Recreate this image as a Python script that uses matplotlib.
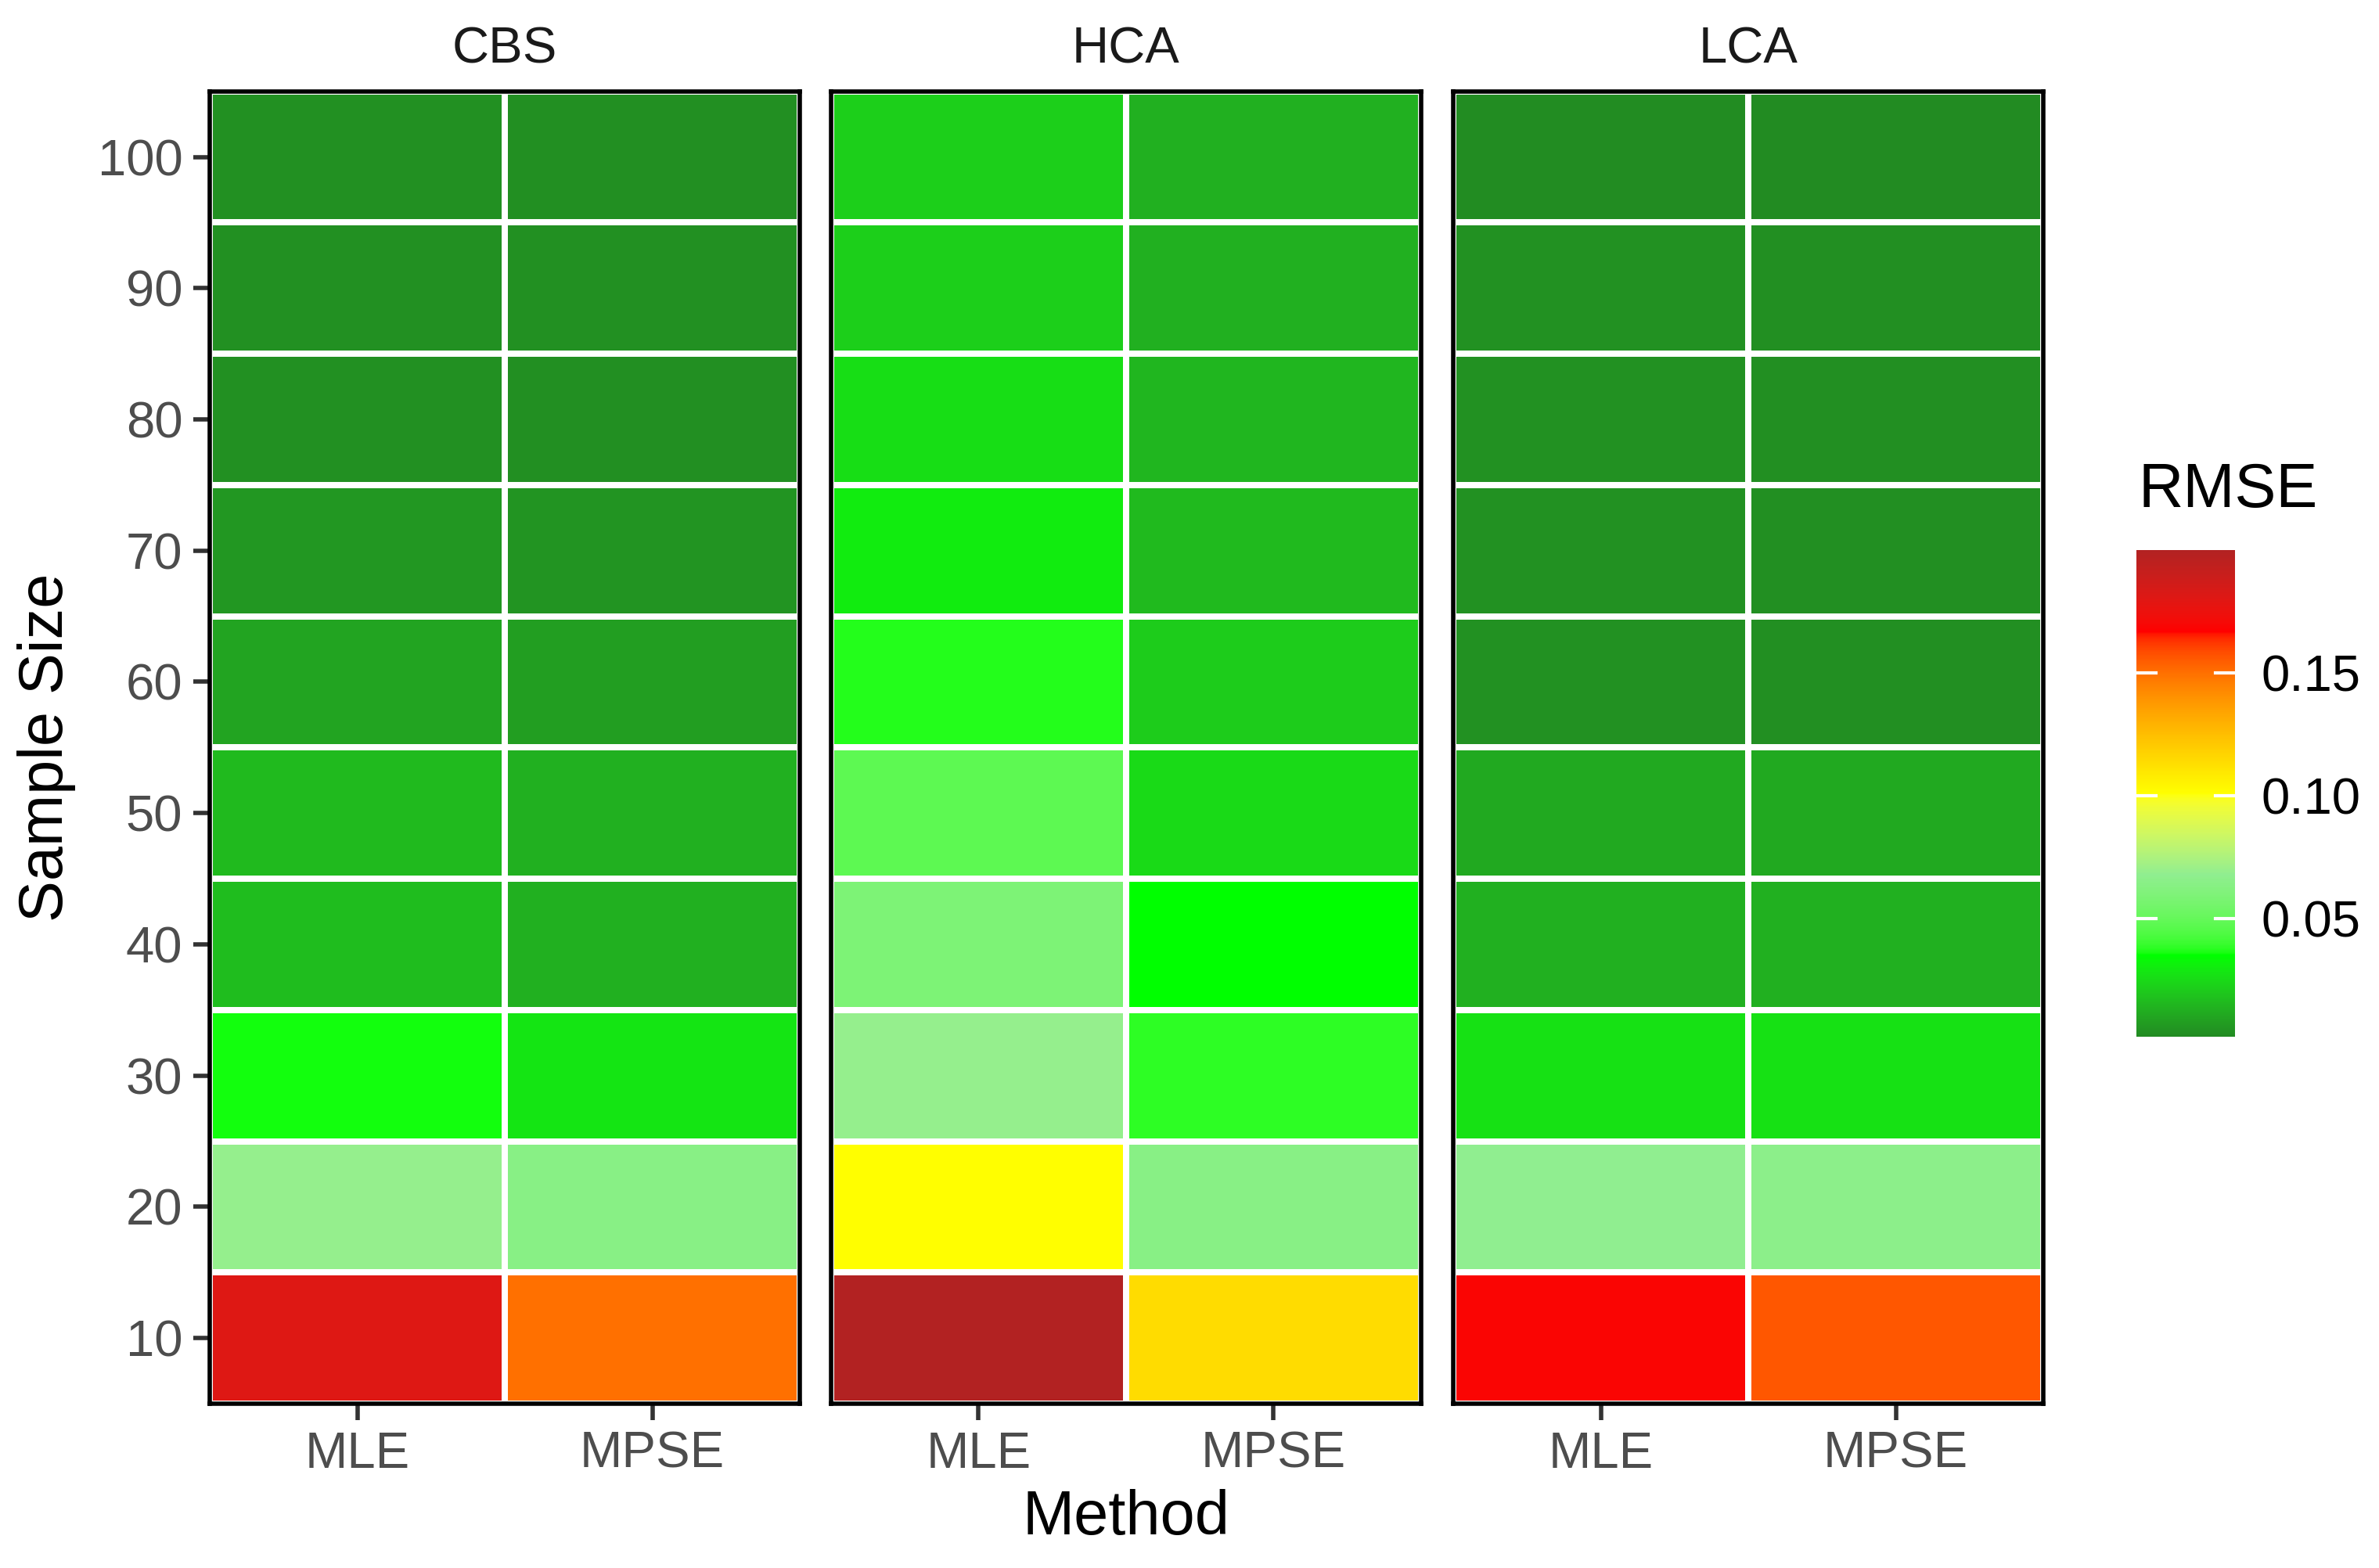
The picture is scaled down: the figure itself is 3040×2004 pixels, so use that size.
import numpy as np
import matplotlib
matplotlib.use("Agg")
import matplotlib.pyplot as plt
from matplotlib.colors import ListedColormap, Normalize, to_rgb
from matplotlib.cm import ScalarMappable

plt.rcParams['font.family'] = ['Liberation Sans', 'DejaVu Sans']

sample_sizes = [10, 20, 30, 40, 50, 60, 70, 80, 90, 100]
methods = ['MLE', 'MPSE']
panels = ['CBS', 'HCA', 'LCA']

cbs_mle = [0.181, 0.069, 0.036, 0.017, 0.016, 0.0094, 0.0057, 0.0038, 0.0037, 0.0037]
cbs_mpse = [0.150, 0.064, 0.028, 0.013, 0.013, 0.008, 0.005, 0.0035, 0.0037, 0.0035]
hca_mle = [0.200, 0.101, 0.069, 0.059, 0.048, 0.037, 0.030, 0.026, 0.022, 0.022]
hca_mpse = [0.114, 0.064, 0.038, 0.035, 0.025, 0.021, 0.016, 0.015, 0.013, 0.013]
lca_mle = [0.169, 0.068, 0.027, 0.013, 0.011, 0.004, 0.004, 0.004, 0.004, 0.0025]
lca_mpse = [0.156, 0.066, 0.027, 0.013, 0.011, 0.0035, 0.0035, 0.0035, 0.0035, 0.002]

panel_data = {
    'CBS': (cbs_mle, cbs_mpse),
    'HCA': (hca_mle, hca_mpse),
    'LCA': (lca_mle, lca_mpse),
}

palette = ['forestgreen', '#00ff00', 'lightgreen', 'yellow', 'orange', 'red', 'firebrick']


# gradient interpolated in Lab space, like ggplot's gradientn
def srgb_to_lab(c):
    c = np.asarray(c, float)
    lin = np.where(c <= 0.04045, c / 12.92, ((c + 0.055) / 1.055) ** 2.4)
    M = np.array([[0.4124, 0.3576, 0.1805],
                  [0.2126, 0.7152, 0.0722],
                  [0.0193, 0.1192, 0.9505]])
    xyz = lin @ M.T / np.array([0.95047, 1.0, 1.08883])
    f = np.where(xyz > 0.008856, np.cbrt(xyz), 7.787 * xyz + 16 / 116)
    return np.stack([116 * f[..., 1] - 16, 500 * (f[..., 0] - f[..., 1]),
                     200 * (f[..., 1] - f[..., 2])], -1)


def lab_to_srgb(lab):
    L, a, b = lab[..., 0], lab[..., 1], lab[..., 2]
    fy = (L + 16) / 116
    fx = fy + a / 500
    fz = fy - b / 200
    f = np.stack([fx, fy, fz], -1)
    xyz = np.where(f ** 3 > 0.008856, f ** 3, (f - 16 / 116) / 7.787)
    xyz = xyz * np.array([0.95047, 1.0, 1.08883])
    Minv = np.array([[3.2406, -1.5372, -0.4986],
                     [-0.9689, 1.8758, 0.0415],
                     [0.0557, -0.2040, 1.0570]])
    lin = np.clip(xyz @ Minv.T, 0, 1)
    return np.clip(np.where(lin <= 0.0031308, 12.92 * lin, 1.055 * lin ** (1 / 2.4) - 0.055), 0, 1)


stops = srgb_to_lab(np.array([to_rgb(c) for c in palette]))
pos = np.linspace(0, 1, len(palette))
grid = np.linspace(0, 1, 512)
lab_grid = np.stack([np.interp(grid, pos, stops[:, k]) for k in range(3)], -1)
cmap = ListedColormap(lab_to_srgb(lab_grid))

all_vals = np.concatenate([np.array(v) for pair in panel_data.values() for v in pair])
norm = Normalize(vmin=all_vals.min(), vmax=all_vals.max())

fig = plt.figure(figsize=(15.2, 10.02), dpi=200)

lefts = [0.0882, 0.3493, 0.6109]
pw, pb, ph = 0.248, 0.1048, 0.837
xe = np.arange(len(methods) + 1) - 0.5
ye = np.array(sample_sizes + [sample_sizes[-1] + 10]) - 5

axes = []
for name, left in zip(panels, lefts):
    ax = fig.add_axes([left, pb, pw, ph])
    mle, mpse = panel_data[name]
    C = np.column_stack([mle, mpse])
    ax.pcolormesh(xe, ye, C, cmap=cmap, norm=norm, edgecolors='white', linewidth=2.8)
    ax.set_xlim(xe[0], xe[-1])
    ax.set_ylim(ye[0], ye[-1])
    ax.set_xticks(range(len(methods)))
    ax.set_xticklabels(methods)
    ax.set_yticks(sample_sizes)
    if left == lefts[0]:
        ax.set_yticklabels([str(s) for s in sample_sizes])
    else:
        ax.tick_params(axis='y', left=False, labelleft=False)
    ax.tick_params(colors='#333333', labelcolor='#4D4D4D', labelsize=23.5,
                   length=7.5, width=2, pad=5)
    for sp in ax.spines.values():
        sp.set_color('black')
        sp.set_linewidth(2)
    ax.set_title(name, fontsize=23.5, color='#1A1A1A', pad=13)
    axes.append(ax)

axes[0].set_ylabel('Sample Size', fontsize=28.6, labelpad=10)
axes[1].set_xlabel('Method', fontsize=28.6, labelpad=5)

# colorbar legend
cax = fig.add_axes([0.898, 0.339, 0.0414, 0.310])
sm = ScalarMappable(norm=norm, cmap=cmap)
cb = fig.colorbar(sm, cax=cax, ticks=[0.05, 0.10, 0.15])
cb.outline.set_visible(False)
cb.ax.tick_params(length=0, labelsize=23.5, pad=12)
cb.ax.set_yticklabels(['0.05', '0.10', '0.15'])
for t in [0.05, 0.10, 0.15]:
    cax.plot([0, 0.2], [t, t], color='white', lw=1.5, transform=cax.get_yaxis_transform())
    cax.plot([0.8, 1.0], [t, t], color='white', lw=1.5, transform=cax.get_yaxis_transform())
fig.text(0.899, 0.668, 'RMSE', fontsize=28.6, ha='left', va='bottom')

fig.savefig('out.png', dpi=200)
